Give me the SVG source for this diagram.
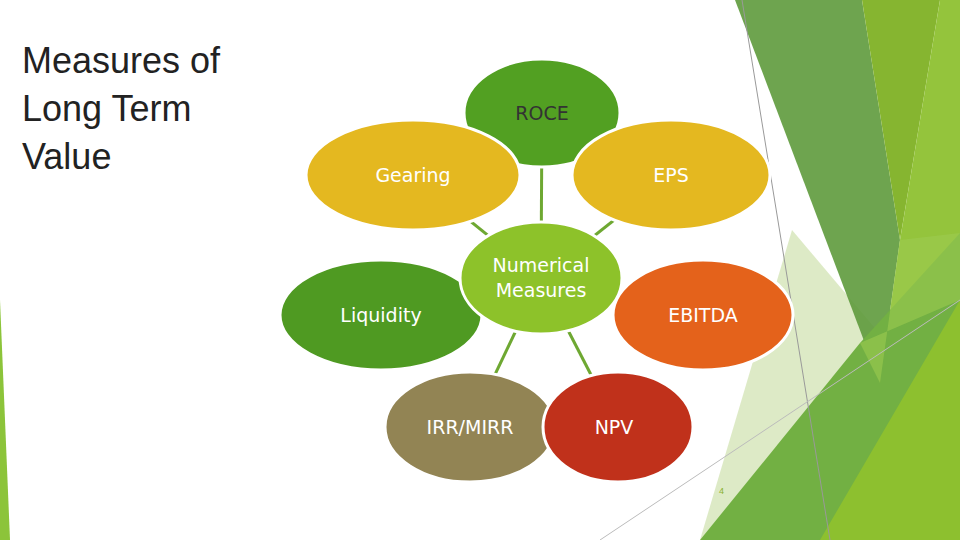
<svg xmlns="http://www.w3.org/2000/svg" width="960" height="540" viewBox="0 0 960 540">
<style>
.t{font-family:"DejaVu Sans",sans-serif;font-size:19px;fill:#fff;text-anchor:middle}
.tw{font-family:"DejaVu Sans",sans-serif;font-size:19px;fill:#333;text-anchor:middle}
.n ellipse{stroke:#fff;stroke-width:3}
.c line{stroke:#6ea832;stroke-width:3}
</style>
<rect width="960" height="540" fill="#fff"/>
<g id="decor">
<polygon points="0,300 10,540 0,540" fill="#8cc43a"/>
<polygon points="792,230 885,340 735,540 700,540" fill="#d9e8c0" opacity="0.9"/>
<polygon points="735,0 862,0 900,240 880,383" fill="#5e9a3c" opacity="0.9"/>
<polygon points="862,0 940,0 900,240" fill="#86b530"/>
<polygon points="940,0 960,0 960,540 880,383 900,240" fill="#94c43c"/>
<polygon points="700,540 860,343 960,233 960,540" fill="#72b043"/>
<polygon points="820,540 960,300 960,540" fill="#8dc02f"/>
<polygon points="860,343 880,383 900,240 960,233 960,300" fill="#9ccc50" opacity="0.6"/>
<line x1="742" y1="0" x2="830" y2="540" stroke="#999" stroke-width="1"/>
<line x1="600" y1="540" x2="960" y2="300" stroke="#bbb" stroke-width="1"/>
</g>
<text x="22" y="73" font-family="Liberation Sans,sans-serif" font-size="36" fill="#222">Measures of</text>
<text x="22" y="121" font-family="Liberation Sans,sans-serif" font-size="36" fill="#222">Long Term</text>
<text x="22" y="169" font-family="Liberation Sans,sans-serif" font-size="36" fill="#222">Value</text>
<g class="c" id="connectors">
<line x1="541" y1="278" x2="542" y2="113"/>
<line x1="541" y1="278" x2="413" y2="175"/>
<line x1="541" y1="278" x2="671" y2="175"/>
<line x1="541" y1="278" x2="470" y2="427"/>
<line x1="541" y1="278" x2="618" y2="427"/>
</g>
<g class="n">
<g id="roce"><ellipse cx="542" cy="113" rx="78" ry="54" fill="#52a022"/><text class="tw" x="542" y="120">ROCE</text></g>
<g id="gearing"><ellipse cx="413" cy="175" rx="107" ry="55" fill="#e4b820"/><text class="t" x="413" y="182">Gearing</text></g>
<g id="eps"><ellipse cx="671" cy="175" rx="99" ry="55" fill="#e4b820"/><text class="t" x="671" y="182">EPS</text></g>
<g id="liquidity"><ellipse cx="381" cy="315" rx="101" ry="55" fill="#4f9a22"/><text class="t" x="381" y="322">Liquidity</text></g>
<g id="ebitda"><ellipse cx="703" cy="315" rx="90" ry="55" fill="#e4621b"/><text class="t" x="703" y="322">EBITDA</text></g>
<g id="numerical"><ellipse cx="541" cy="278" rx="81" ry="56" fill="#8dc22a"/><text class="t" x="541" y="272">Numerical</text><text class="t" x="541" y="297">Measures</text></g>
<g id="irr"><ellipse cx="470" cy="427" rx="85" ry="55" fill="#928454"/><text class="t" x="470" y="434">IRR/MIRR</text></g>
<g id="npv"><ellipse cx="618" cy="427" rx="75" ry="55" fill="#c0311b"/><text class="t" x="614" y="434">NPV</text></g>
</g>
<text x="719" y="494" font-family="Liberation Sans,sans-serif" font-size="9" fill="#8ab030">4</text>
</svg>
